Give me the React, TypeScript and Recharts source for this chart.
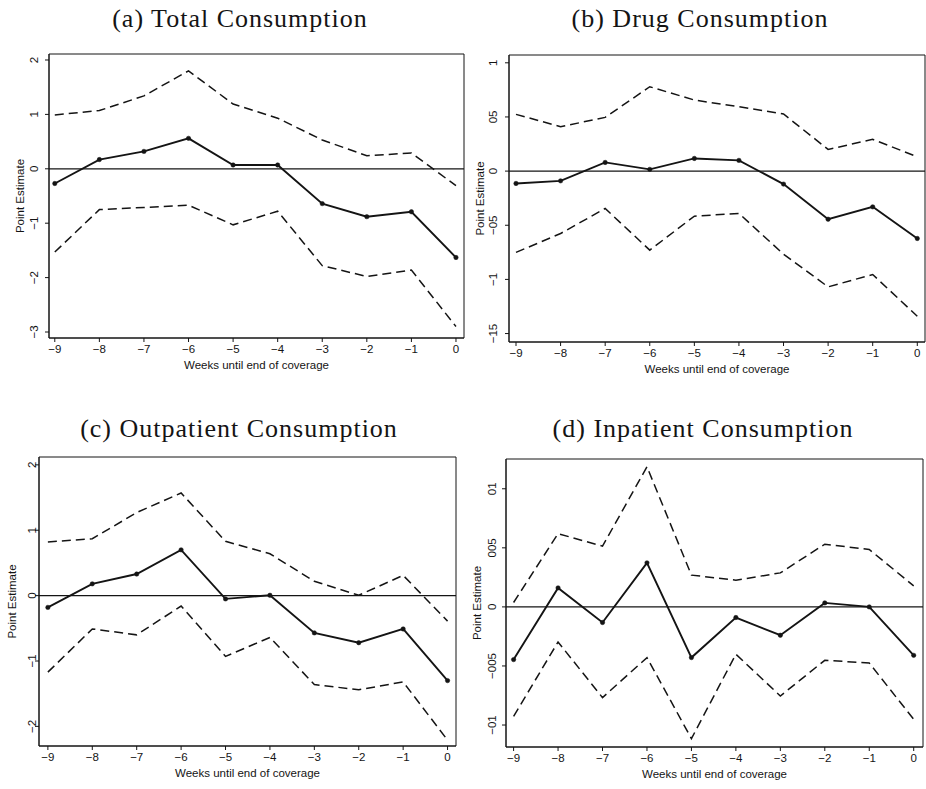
import React from "react";
import {
  LineChart,
  Line,
  XAxis,
  YAxis,
  ReferenceLine,
  ReferenceArea,
} from "recharts";

const WEEKS = [-9, -8, -7, -6, -5, -4, -3, -2, -1, 0];

// (a) total consumption
const totalEst = [-0.27, 0.17, 0.32, 0.56, 0.07, 0.07, -0.64, -0.88, -0.79, -1.63];
const totalUpper = [0.99, 1.07, 1.34, 1.8, 1.19, 0.93, 0.53, 0.24, 0.29, -0.31];
const totalLower = [-1.53, -0.75, -0.71, -0.67, -1.03, -0.78, -1.78, -1.98, -1.86, -2.9];
const totalTicks = [2, 1, 0, -1, -2, -3];

// (b) drug consumption
const drugEst = [-0.0114, -0.009, 0.008, 0.0016, 0.0117, 0.0099, -0.012, -0.0444, -0.033, -0.0622];
const drugUpper = [0.0524, 0.041, 0.0496, 0.0779, 0.0656, 0.0594, 0.0527, 0.02, 0.0293, 0.0132];
const drugLower = [-0.0751, -0.0576, -0.0345, -0.073, -0.0416, -0.0391, -0.0767, -0.1069, -0.0955, -0.134];
const drugTicks = [0.1, 0.05, 0, -0.05, -0.1, -0.15];

// (c) outpatient consumption
const outEst = [-0.18, 0.18, 0.33, 0.7, -0.05, 0.005, -0.57, -0.72, -0.51, -1.3];
const outUpper = [0.82, 0.87, 1.27, 1.57, 0.83, 0.64, 0.22, 0.005, 0.31, -0.39];
const outLower = [-1.17, -0.51, -0.6, -0.16, -0.93, -0.64, -1.36, -1.44, -1.32, -2.21];
const outTicks = [2, 1, 0, -1, -2];

// (d) inpatient consumption
const inEst = [-0.00446, 0.00161, -0.00132, 0.00373, -0.00429, -0.0009, -0.0024, 0.00034, 0, -0.0041];
const inUpper = [0.00037, 0.0062, 0.00514, 0.01186, 0.00269, 0.00226, 0.00288, 0.00531, 0.00486, 0.00178];
const inLower = [-0.00926, -0.00297, -0.00768, -0.00429, -0.01115, -0.00401, -0.00754, -0.00452, -0.00475, -0.00952];
const inTicks = [0.01, 0.005, 0, -0.005, -0.01];

const INK = "#141414";
const SANS = "'Liberation Sans', Arial, sans-serif";
const SERIF = "'Liberation Serif', 'Times New Roman', serif";
const AXIS_FONT = 11.5;

// stata-style labels, leading "0." dropped
function fmtTick(v: number) {
  if (v === 0) return "0";
  const s = String(Math.abs(v)).replace(/^0\./, "");
  return (v < 0 ? "\u2212" : "") + s;
}

function XTick(props: any) {
  const { x, y, payload } = props;
  return (
    <text
      x={x}
      y={y + 7}
      textAnchor="middle"
      dominantBaseline="central"
      fontFamily={SANS}
      fontSize={AXIS_FONT}
      fill={INK}
    >
      {fmtTick(payload.value)}
    </text>
  );
}

function YTick(props: any) {
  const { y, payload, cx } = props;
  return (
    <text
      x={cx}
      y={y}
      transform={`rotate(-90 ${cx} ${y})`}
      textAnchor="middle"
      dominantBaseline="central"
      fontFamily={SANS}
      fontSize={AXIS_FONT}
      fill={INK}
    >
      {fmtTick(payload.value)}
    </text>
  );
}

function XTitle(props: any) {
  const { viewBox } = props;
  if (!viewBox) return null;
  return (
    <text
      x={viewBox.x + viewBox.width / 2}
      y={viewBox.y + 26.5}
      textAnchor="middle"
      dominantBaseline="central"
      fontFamily={SANS}
      fontSize={AXIS_FONT}
      fill={INK}
    >
      Weeks until end of coverage
    </text>
  );
}

function YTitle(props: any) {
  const { viewBox, cx } = props;
  if (!viewBox) return null;
  const cy = viewBox.y + viewBox.height / 2;
  return (
    <text
      x={cx}
      y={cy}
      transform={`rotate(-90 ${cx} ${cy})`}
      textAnchor="middle"
      dominantBaseline="central"
      fontFamily={SANS}
      fontSize={AXIS_FONT}
      fill={INK}
    >
      Point Estimate
    </text>
  );
}

type PanelCfg = {
  title: string;
  titleX: number;
  titleBase: number;
  left: number;
  top: number;
  plot: { l: number; t: number; r: number; b: number };
  xDomain: [number, number];
  yDomain: [number, number];
  yTicks: number[];
  yLabelX: number;
  yTickX: number;
};

const X_AXIS_H = 40;

function Panel({
  cfg,
  est,
  upper,
  lower,
}: {
  cfg: PanelCfg;
  est: number[];
  upper: number[];
  lower: number[];
}) {
  const { plot, left, top } = cfg;
  const width = Math.min(plot.r - left + 2, 926 - left);
  const height = plot.b - top + X_AXIS_H;
  const data = WEEKS.map((w, i) => ({
    week: w,
    est: est[i],
    upper: upper[i],
    lower: lower[i],
  }));

  return (
    <>
      <div
        style={{
          position: "absolute",
          left: cfg.titleX,
          top: cfg.titleBase - 21,
          transform: "translateX(-50%)",
          fontFamily: SERIF,
          fontSize: 26,
          letterSpacing: 1,
          lineHeight: "26px",
          whiteSpace: "nowrap",
          color: INK,
        }}
      >
        {cfg.title}
      </div>
      <div style={{ position: "absolute", left, top }}>
        <LineChart
          width={width}
          height={height}
          data={data}
          margin={{
            top: plot.t - top,
            right: width - (plot.r - left),
            left: 0,
            bottom: 0,
          }}
        >
          <XAxis
            dataKey="week"
            type="number"
            domain={cfg.xDomain}
            allowDataOverflow
            ticks={WEEKS}
            interval={0}
            height={X_AXIS_H}
            tickSize={4}
            tickMargin={0}
            stroke={INK}
            tick={<XTick />}
            label={<XTitle />}
          />
          <YAxis
            type="number"
            domain={cfg.yDomain}
            allowDataOverflow
            ticks={cfg.yTicks}
            interval={0}
            width={plot.l - left}
            tickSize={4}
            tickMargin={0}
            stroke={INK}
            tick={<YTick cx={cfg.yTickX - left} />}
            label={<YTitle cx={cfg.yLabelX - left} />}
          />
          <ReferenceArea
            x1={cfg.xDomain[0]}
            x2={cfg.xDomain[1]}
            y1={cfg.yDomain[0]}
            y2={cfg.yDomain[1]}
            fill="none"
            fillOpacity={0}
            stroke={INK}
            strokeWidth={1}
          />
          <ReferenceLine y={0} stroke={INK} strokeWidth={1.2} />
          <Line
            dataKey="upper"
            stroke={INK}
            strokeWidth={1.5}
            strokeDasharray="9 5"
            dot={false}
            isAnimationActive={false}
          />
          <Line
            dataKey="lower"
            stroke={INK}
            strokeWidth={1.5}
            strokeDasharray="9 5"
            dot={false}
            isAnimationActive={false}
          />
          <Line
            dataKey="est"
            stroke={INK}
            strokeWidth={1.9}
            dot={{ r: 2.2, fill: INK, stroke: INK, strokeWidth: 0.5 }}
            isAnimationActive={false}
          />
        </LineChart>
      </div>
    </>
  );
}

const panelA: PanelCfg = {
  title: "(a) Total Consumption",
  titleX: 240,
  titleBase: 27,
  left: 0,
  top: 40,
  plot: { l: 49, t: 54, r: 464, b: 338 },
  xDomain: [-9.13, 0.18],
  yDomain: [-3.11, 2.11],
  yTicks: totalTicks,
  yLabelX: 20,
  yTickX: 34,
};

const panelB: PanelCfg = {
  title: "(b) Drug Consumption",
  titleX: 700,
  titleBase: 27,
  left: 460,
  top: 40,
  plot: { l: 509, t: 55, r: 925, b: 342 },
  xDomain: [-9.157, 0.173],
  yDomain: [-0.1578, 0.1072],
  yTicks: drugTicks,
  yLabelX: 480,
  yTickX: 493,
};

const panelC: PanelCfg = {
  title: "(c) Outpatient Consumption",
  titleX: 239,
  titleBase: 437,
  left: 0,
  top: 445,
  plot: { l: 39, t: 457, r: 456, b: 746 },
  xDomain: [-9.2, 0.19],
  yDomain: [-2.3, 2.12],
  yTicks: outTicks,
  yLabelX: 12,
  yTickX: 32,
};

const panelD: PanelCfg = {
  title: "(d) Inpatient Consumption",
  titleX: 703,
  titleBase: 437,
  left: 460,
  top: 445,
  plot: { l: 506, t: 459, r: 923, b: 747 },
  xDomain: [-9.171, 0.209],
  yDomain: [-0.01186, 0.01252],
  yTicks: inTicks,
  yLabelX: 477,
  yTickX: 492.5,
};

export default function App() {
  return (
    <div
      style={{
        position: "absolute",
        left: 0,
        top: 0,
        width: 926,
        height: 789,
        background: "#fff",
        overflow: "hidden",
      }}
    >
      <Panel cfg={panelA} est={totalEst} upper={totalUpper} lower={totalLower} />
      <Panel cfg={panelB} est={drugEst} upper={drugUpper} lower={drugLower} />
      <Panel cfg={panelC} est={outEst} upper={outUpper} lower={outLower} />
      <Panel cfg={panelD} est={inEst} upper={inUpper} lower={inLower} />
    </div>
  );
}
